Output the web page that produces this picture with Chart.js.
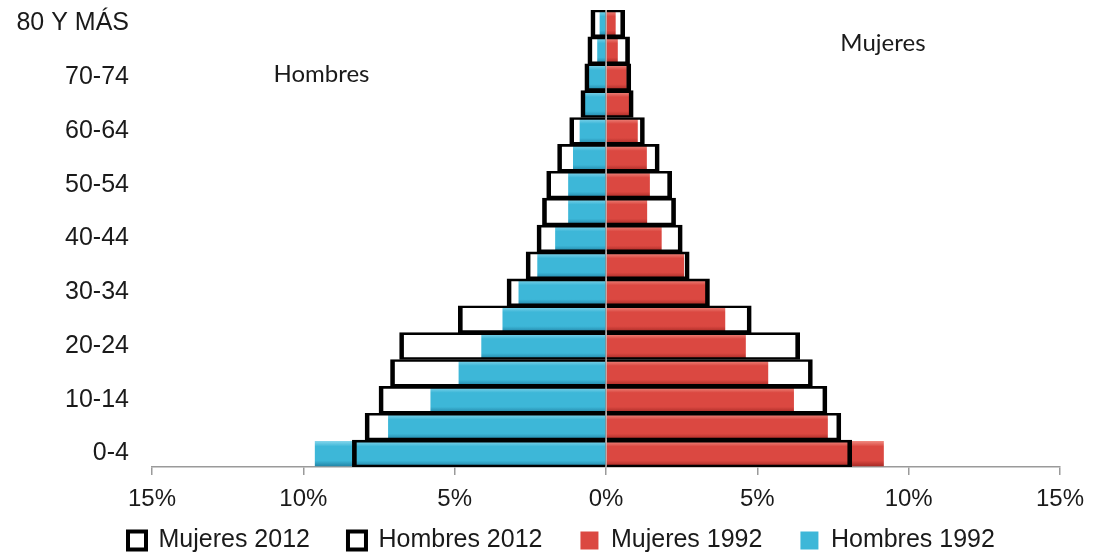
<!DOCTYPE html>
<html>
<head>
<meta charset="utf-8">
<script src="https://cdn.jsdelivr.net/npm/chart.js@4"></script>
<style>
  html, body { margin: 0; padding: 0; background: #fff; }
  #wrap { width: 1094px; height: 554px; }
</style>
</head>
<body>
<div id="wrap"><canvas id="piramide"></canvas></div>
<script>
const categorias = ['0-4', '5-9', '10-14', '15-19', '20-24', '25-29', '30-34', '35-39', '40-44',
  '45-49', '50-54', '55-59', '60-64', '65-69', '70-74', '75-79', '80 Y MÁS']

// porcentaje de la poblacion, hombres en negativo
const mujeres2012 = [8.12, 7.76, 7.30, 6.82, 6.40, 4.80, 3.42, 2.75, 2.52, 2.30, 2.17, 1.76, 1.27, 0.90, 0.82, 0.78, 0.62]
const hombres2012 = [-8.38, -7.96, -7.50, -7.12, -6.82, -4.88, -3.27, -2.64, -2.28, -2.10, -1.96, -1.60, -1.20, -0.83, -0.70, -0.60, -0.50]
const mujeres1992 = [9.18, 7.33, 6.21, 5.36, 4.62, 3.94, 3.32, 2.58, 1.84, 1.36, 1.45, 1.35, 1.05, 0.78, 0.69, 0.39, 0.32]
const hombres1992 = [-9.62, -7.20, -5.80, -4.87, -4.12, -3.42, -2.89, -2.27, -1.68, -1.25, -1.25, -1.09, -0.87, -0.72, -0.59, -0.29, -0.21]

const ticksX = [-15, -10, -5, 0, 5, 10, 15]

const rojo = ['#f08c82', '#db4841', '#a82b26']
const azul = ['#86d6ec', '#3db7d8', '#2386a8']

Chart.defaults.font.family = '"Liberation Sans", Arial, sans-serif'
Chart.defaults.color = '#1a1a1a'

// degradado vertical por barra, imitando el biselado de Excel
const degradado = ([claro, medio, oscuro]) => (c) => {
  const y = c.chart.scales.y
  if (c.type !== 'data' || !y) return medio
  const centro = y.getPixelForValue(c.dataIndex)
  const alto = Math.abs(y.getPixelForValue(1) - y.getPixelForValue(0)) * 0.94
  if (!isFinite(centro) || !isFinite(alto) || alto === 0) return medio
  const g = c.chart.ctx.createLinearGradient(0, centro - alto / 2, 0, centro + alto / 2)
  g.addColorStop(0, claro)
  g.addColorStop(0.22, medio)
  g.addColorStop(0.78, medio)
  g.addColorStop(1, oscuro)
  return g
}

const etiquetasSexo = {
  id: 'etiquetasSexo',
  afterDraw(chart) {
    const { ctx, scales: { x, y } } = chart
    ctx.save()
    ctx.font = '24px Lato, "Open Sans", sans-serif'
    ctx.fillStyle = '#1a1a1a'
    ctx.textAlign = 'center'
    ctx.textBaseline = 'middle'
    ctx.fillText('Hombres', x.getPixelForValue(-9.4), y.getPixelForValue(14) - 3)
    ctx.fillText('Mujeres', x.getPixelForValue(9.15), y.getPixelForValue(15) - 7)
    ctx.restore()
  }
}

// la leyenda de Excel va desplazada y mas abajo que el hueco que deja Chart.js
const ajusteLeyenda = {
  id: 'ajusteLeyenda',
  afterLayout(chart) {
    const l = chart.legend
    l.left = 90
    l.top = chart.height - 64
    l.bottom = chart.height
  }
}

const coloresLeyenda = [null, null, rojo[1], azul[1]]

const contorno = { top: 2, bottom: 2, left: 4, right: 4 }

new Chart(document.getElementById('piramide'), {
  type: 'bar',
  data: {
    labels: categorias,
    datasets: [
      {
        label: 'Mujeres 2012',
        data: mujeres2012,
        backgroundColor: 'rgba(0,0,0,0)',
        borderColor: '#000',
        borderWidth: contorno,
        barPercentage: 1,
        categoryPercentage: 1
      },
      {
        label: 'Hombres 2012',
        data: hombres2012,
        backgroundColor: 'rgba(0,0,0,0)',
        borderColor: '#000',
        borderWidth: contorno,
        barPercentage: 1,
        categoryPercentage: 1
      },
      {
        label: 'Mujeres 1992',
        data: mujeres1992,
        backgroundColor: degradado(rojo),
        borderWidth: 0,
        barPercentage: 0.94,
        categoryPercentage: 1
      },
      {
        label: 'Hombres 1992',
        data: hombres1992,
        backgroundColor: degradado(azul),
        borderWidth: 0,
        barPercentage: 0.94,
        categoryPercentage: 1
      }
    ]
  },
  options: {
    indexAxis: 'y',
    responsive: true,
    maintainAspectRatio: false,
    animation: false,
    layout: { padding: { top: 10, right: 30, left: 0, bottom: 0 } },
    plugins: {
      tooltip: { enabled: false },
      legend: {
        position: 'bottom',
        align: 'start',
        maxHeight: 42,
        labels: {
          boxWidth: 18,
          boxHeight: 18,
          padding: 38,
          color: '#1a1a1a',
          font: { size: 25 },
          generateLabels: (chart) => Chart.defaults.plugins.legend.labels.generateLabels(chart).map(item => {
            const relleno = coloresLeyenda[item.datasetIndex]
            return relleno
              ? { ...item, fillStyle: relleno, lineWidth: 0 }
              : { ...item, fillStyle: '#fff', strokeStyle: '#000', lineWidth: 4 }
          })
        }
      }
    },
    scales: {
      x: {
        min: -15,
        max: 15,
        stacked: false,
        afterBuildTicks: (s) => { s.ticks = ticksX.map(v => ({ value: v })) },
        afterFit: (s) => { s.height = 45 },
        ticks: {
          padding: 10,
          color: '#1a1a1a',
          font: { size: 24 },
          callback: (v) => Math.abs(v) + '%'
        },
        grid: {
          color: (c) => (c.tick && c.tick.value === 0 ? '#8c8c8c' : 'rgba(0,0,0,0)'),
          lineWidth: 1.5,
          tickColor: '#9a9a9a',
          tickLength: 8
        },
        border: { display: true, color: '#9a9a9a', width: 1.5 }
      },
      y: {
        stacked: true,
        reverse: true,
        afterFit: (s) => { s.width = 152; s.paddingTop = 0; s.paddingBottom = 0 },
        ticks: {
          autoSkip: false,
          padding: 23,
          color: '#1a1a1a',
          font: { size: 25 },
          callback: function (v, i) { return i % 2 === 0 ? this.getLabelForValue(v) : '' }
        },
        grid: { display: false, drawTicks: false },
        border: { display: false }
      }
    }
  },
  plugins: [etiquetasSexo, ajusteLeyenda]
})
</script>
</body>
</html>
